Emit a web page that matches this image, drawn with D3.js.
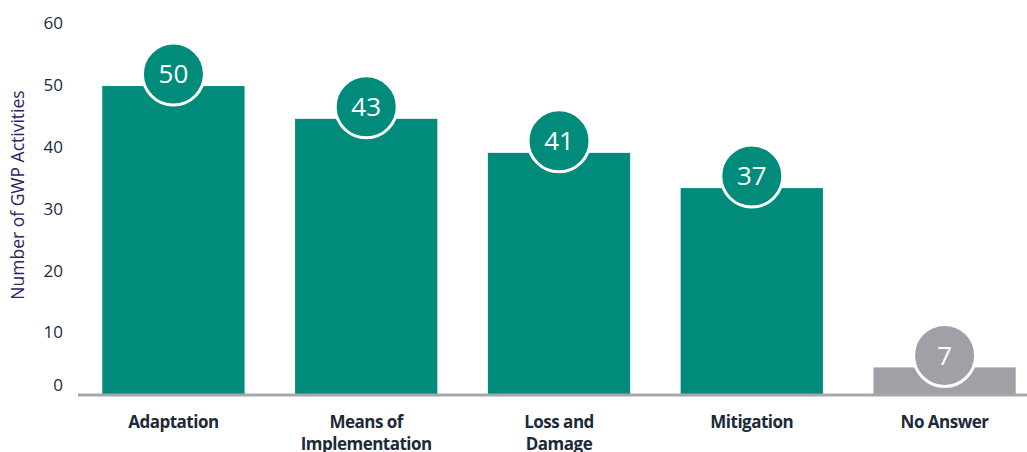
<!DOCTYPE html>
<html><head><meta charset="utf-8">
<script src="https://cdn.jsdelivr.net/npm/d3@7"></script>
<style>body{margin:0;background:#fff}svg{display:block}</style>
</head><body>
<svg id="chart" width="1027" height="452"></svg>
<script>
const categories = ["Adaptation", "Means of\nImplementation", "Loss and\nDamage", "Mitigation", "No Answer"];
const barValues = [49.8, 44.5, 39.0, 33.3, 4.3];
const labelValues = [50, 43, 41, 37, 7];
const barColors = ["#008b7a", "#008b7a", "#008b7a", "#008b7a", "#a1a0a7"];
const yTicks = [0, 10, 20, 30, 40, 50, 60];
const yTitle = "Number of GWP Activities";

const svg = d3.select("#chart");
const font = "'Open Sans', 'Noto Sans', sans-serif";
const y = d3.scaleLinear().domain([0, 60]).range([394, 23]);
const x = d3.scaleBand().domain(categories).range([83, 1035]).paddingInner(0.262).paddingOuter(0.1);

// bars
svg.selectAll("rect.bar").data(categories).join("rect")
  .attr("x", d => x(d)).attr("width", x.bandwidth())
  .attr("y", (d, i) => y(barValues[i]))
  .attr("height", (d, i) => y(0) - y(barValues[i]))
  .attr("fill", (d, i) => barColors[i]);

// baseline
svg.append("line").attr("x1", 78).attr("x2", 1027).attr("y1", y(0) + 1).attr("y2", y(0) + 1)
  .attr("stroke", "#a7a6ab").attr("stroke-width", 3);

// y axis labels
const yAxis = d3.axisLeft(y).tickValues(yTicks).tickSize(0).tickPadding(0);
const ga = svg.append("g").attr("transform", "translate(63,0)").call(yAxis);
ga.select(".domain").remove();
ga.selectAll("text").attr("font-family", font).attr("font-size", 17).attr("fill", "#1d2b3a")
  .attr("dy", d => d === 0 ? "-0.2em" : "0.34em");

// y title
svg.append("text").attr("transform", "translate(17,195) rotate(-90)")
  .attr("text-anchor", "middle").attr("dominant-baseline", "central")
  .attr("font-family", font).attr("font-size", 17.5).attr("fill", "#2b2362").text(yTitle);

// circles
const g = svg.selectAll("g.lab").data(categories).join("g")
  .attr("transform", (d, i) => `translate(${x(d) + x.bandwidth() / 2},${y(barValues[i]) - 12})`);
g.append("circle").attr("r", 31).attr("fill", (d, i) => barColors[i])
  .attr("stroke", "#fff").attr("stroke-width", 3);
g.append("text").attr("text-anchor", "middle").attr("dy", "0.36em")
  .attr("font-family", font).attr("font-size", 26).attr("fill", "#fff")
  .text((d, i) => labelValues[i]);

// x labels
svg.selectAll("text.xl").data(categories).join("text")
  .attr("class", "xl")
  .attr("x", d => x(d) + x.bandwidth() / 2).attr("y", 428)
  .attr("text-anchor", "middle").attr("font-family", font).attr("font-weight", 700)
  .attr("font-size", 17).attr("fill", "#1c2a39").attr("letter-spacing", "-0.5")
  .each(function(d) {
    const lines = d.split("\n");
    d3.select(this).selectAll("tspan").data(lines).join("tspan")
      .attr("x", x(d) + x.bandwidth() / 2).attr("dy", (l, j) => j === 0 ? 0 : 22).text(l => l);
  });
</script>
</body></html>
